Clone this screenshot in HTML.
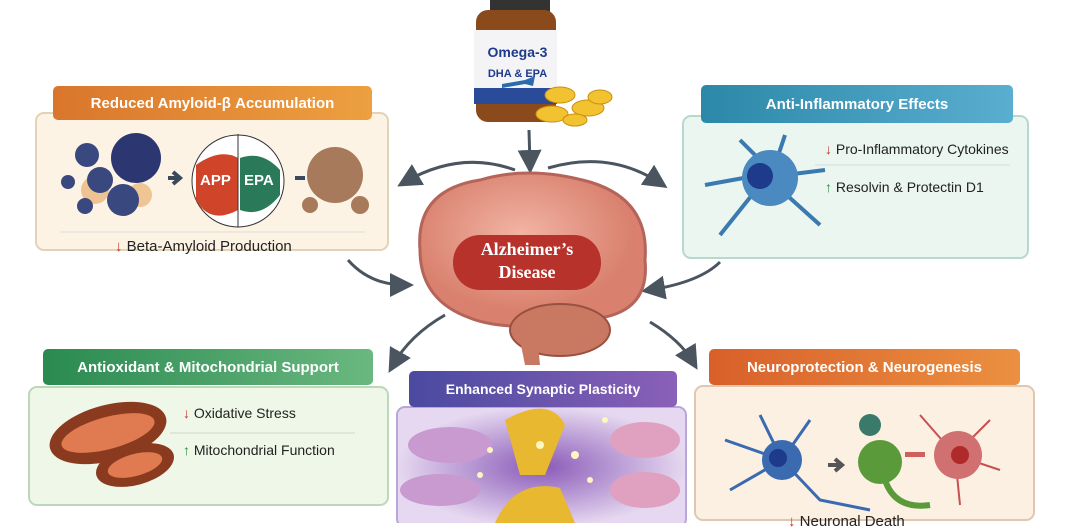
<!DOCTYPE html>
<html><head><meta charset="utf-8"><style>
body{margin:0;width:1075px;height:523px;overflow:hidden;background:#fff;font-family:"Liberation Sans",sans-serif;position:relative}
.a{position:absolute}
.hd{position:absolute;color:#fff;font-weight:bold;font-size:15px;text-align:center;border-radius:5px;display:flex;align-items:center;justify-content:center}
.t{position:absolute;font-size:14px;color:#222}
</style></head><body>
<svg class="a" width="1075" height="523" style="left:0;top:0">
<defs><marker id="m" markerWidth="8" markerHeight="8" refX="5" refY="4" orient="auto"><path d="M0,0L8,4L0,8z" fill="#4a5560"/></marker>
<radialGradient id="br" cx="0.45" cy="0.4"><stop offset="0" stop-color="#f2b4a4"/><stop offset="1" stop-color="#d9806e"/></radialGradient>
<radialGradient id="sy" cx="0.5" cy="0.5"><stop offset="0" stop-color="#8a5ab8"/><stop offset="1" stop-color="#e6d8f0"/></radialGradient></defs>
<rect x="36" y="113" width="352" height="137" rx="8" fill="#fcf3e4" stroke="#e2d3b8" stroke-width="2"/>
<rect x="683" y="116" width="345" height="142" rx="8" fill="#eaf6ef" stroke="#b8d8cc" stroke-width="2"/>
<rect x="29" y="387" width="359" height="118" rx="8" fill="#eef7e8" stroke="#bcd8b8" stroke-width="2"/>
<rect x="397" y="407" width="289" height="120" rx="8" fill="url(#sy)" stroke="#b8a6d8" stroke-width="2"/>
<rect x="695" y="386" width="339" height="134" rx="8" fill="#fcf0e2" stroke="#e0c8b0" stroke-width="2"/>
<g fill="none" stroke="#4a5560" stroke-width="3" marker-end="url(#m)">
<path d="M529 130 L530 165"/>
<path d="M515 170 Q460 150 405 182"/>
<path d="M548 168 Q610 150 660 183"/>
<path d="M348 260 Q370 285 405 285"/>
<path d="M720 262 Q700 282 650 290"/>
<path d="M445 315 Q410 335 393 365"/>
<path d="M650 322 Q680 340 693 362"/>
</g>
<!-- brain -->
<path d="M420 250 Q415 190 480 180 Q530 165 590 182 Q650 200 645 260 Q650 310 600 318 L560 325 Q500 330 470 318 Q420 300 420 250z" fill="url(#br)" stroke="#b5645a" stroke-width="3"/>
<ellipse cx="560" cy="330" rx="50" ry="26" fill="#c97862" stroke="#9a5040" stroke-width="2"/>
<path d="M520 340 L525 365 L540 365 L538 345z" fill="#c97862"/>
<rect x="453" y="235" width="148" height="55" rx="27" fill="#b8322c"/>
<!-- bottle -->
<rect x="490" y="0" width="60" height="12" fill="#333"/>
<rect x="476" y="10" width="80" height="112" rx="12" fill="#8a4a1c"/>
<rect x="474" y="30" width="83" height="65" fill="#f4f4f6"/>
<rect x="474" y="88" width="83" height="16" fill="#2a4a9a"/>
<path d="M502 84 L525 80 L535 76 L533 86 L525 84 L502 88z" fill="#2a6ab0"/>
<g fill="#f2c230" stroke="#c89010"><ellipse cx="560" cy="95" rx="15" ry="8"/><ellipse cx="588" cy="108" rx="16" ry="8"/><ellipse cx="552" cy="114" rx="16" ry="8"/><ellipse cx="600" cy="97" rx="12" ry="7"/><ellipse cx="575" cy="120" rx="12" ry="6"/></g>
<!-- amyloid -->
<g fill="#e9b070" opacity="0.7"><circle cx="95" cy="190" r="14"/><circle cx="140" cy="195" r="12"/></g>
<circle cx="87" cy="155" r="12" fill="#3a4880"/><circle cx="136" cy="158" r="25" fill="#2c3670"/><circle cx="100" cy="180" r="13" fill="#3a4880"/><circle cx="123" cy="200" r="16" fill="#3a4880"/><circle cx="68" cy="182" r="7" fill="#3a4880"/><circle cx="85" cy="206" r="8" fill="#3a4880"/>
<path d="M168 178 L178 178 M173 172 L180 178 L173 184" stroke="#3a4a5a" stroke-width="4" fill="none"/>
<circle cx="238" cy="181" r="46" fill="#fff" stroke="#333"/>
<path d="M196 165 Q220 148 238 158 L238 210 Q210 225 196 200z" fill="#d0442a"/>
<path d="M240 158 Q262 150 280 170 L280 195 Q262 218 240 210z" fill="#2a7a5a"/>
<line x1="238" y1="134" x2="238" y2="227" stroke="#333"/>
<path d="M295 178 L305 178" stroke="#3a4a5a" stroke-width="4"/>
<circle cx="335" cy="175" r="28" fill="#a67a5a"/><circle cx="310" cy="205" r="8" fill="#a67a5a"/><circle cx="360" cy="205" r="9" fill="#a67a5a"/>
<line x1="60" y1="232" x2="365" y2="232" stroke="#ddd"/>
<!-- mito -->
<ellipse cx="108" cy="433" rx="60" ry="28" fill="#8a3a1e" transform="rotate(-15 108 433)"/>
<ellipse cx="108" cy="433" rx="48" ry="16" fill="#e07a50" transform="rotate(-15 108 433)"/>
<ellipse cx="135" cy="465" rx="40" ry="20" fill="#8a3a1e" transform="rotate(-15 135 465)"/>
<ellipse cx="135" cy="465" rx="28" ry="11" fill="#e07a50" transform="rotate(-15 135 465)"/>
<line x1="170" y1="433" x2="355" y2="433" stroke="#ccd8c8"/>
<!-- cell -->
<g stroke="#3a7ab0" stroke-width="4" fill="none"><path d="M760 175 L705 185"/><path d="M770 180 L820 225"/><path d="M760 185 L720 235"/><path d="M775 165 L785 135"/><path d="M765 165 L740 140"/><path d="M785 175 L825 170"/></g>
<circle cx="770" cy="178" r="28" fill="#4a8ac0"/><circle cx="760" cy="176" r="13" fill="#1e3a8a"/>
<line x1="815" y1="165" x2="1010" y2="165" stroke="#d0e0d8"/>
<!-- synaptic -->
<path d="M505 420 Q550 395 565 425 L545 475 L520 475z" fill="#e8b830"/>
<path d="M495 523 Q515 478 560 488 L575 523z" fill="#e8b830"/>
<ellipse cx="450" cy="445" rx="42" ry="18" fill="#c89ad0"/><ellipse cx="440" cy="490" rx="40" ry="16" fill="#c89ad0"/>
<ellipse cx="645" cy="440" rx="35" ry="18" fill="#e0a0c0"/><ellipse cx="645" cy="490" rx="35" ry="18" fill="#e0a0c0"/>
<g fill="#fff6c0"><circle cx="490" cy="450" r="3"/><circle cx="575" cy="455" r="4"/><circle cx="590" cy="480" r="3"/><circle cx="480" cy="475" r="3"/><circle cx="540" cy="445" r="4"/><circle cx="605" cy="420" r="3"/></g>
<!-- neuro -->
<g stroke="#3a6ab0" stroke-width="3" fill="none"><path d="M782 460 L725 440"/><path d="M782 460 L760 415"/><path d="M782 460 L810 420"/><path d="M782 460 L820 500 L870 510"/><path d="M782 460 L730 490"/></g>
<circle cx="782" cy="460" r="20" fill="#3a6ab0"/><circle cx="778" cy="458" r="9" fill="#1e3a8a"/>
<path d="M828 465 L840 465 M835 459 L842 465 L835 471" stroke="#555" stroke-width="4" fill="none"/>
<circle cx="880" cy="462" r="22" fill="#5a9a3a"/><path d="M885 480 Q895 510 930 505" stroke="#5a9a3a" stroke-width="6" fill="none"/>
<g stroke="#c85050" stroke-width="2" fill="none"><path d="M955 455 L990 420"/><path d="M955 455 L920 415"/><path d="M955 455 L1000 470"/><path d="M955 455 L960 505"/></g>
<circle cx="958" cy="455" r="24" fill="#d07070"/><circle cx="960" cy="455" r="9" fill="#b02a2a"/>
<rect x="905" y="452" width="20" height="5" fill="#d06060"/>
<circle cx="870" cy="425" r="11" fill="#3a7a6a"/>
</svg>
<div class="hd" style="left:53px;top:86px;width:319px;height:34px;background:linear-gradient(90deg,#d9762c,#eda040)">Reduced Amyloid-β Accumulation</div>
<div class="hd" style="left:701px;top:85px;width:312px;height:38px;background:linear-gradient(90deg,#2c88a8,#5aaed0)">Anti-Inflammatory Effects</div>
<div class="hd" style="left:43px;top:349px;width:330px;height:36px;background:linear-gradient(90deg,#2a8a50,#6ab880)">Antioxidant &amp; Mitochondrial Support</div>
<div class="hd" style="left:409px;top:371px;width:268px;height:36px;background:linear-gradient(90deg,#4a4aa0,#8a60b8);font-size:14px">Enhanced Synaptic Plasticity</div>
<div class="hd" style="left:709px;top:349px;width:311px;height:36px;background:linear-gradient(90deg,#d8602a,#eb9040)">Neuroprotection &amp; Neurogenesis</div>
<div class="a" style="left:453px;top:238px;width:148px;text-align:center;color:#fff;font-weight:bold;font-size:18px;line-height:23px;font-family:'Liberation Serif',serif">Alzheimer’s<br>Disease</div>
<div class="a" style="left:476px;top:42px;width:83px;text-align:center;color:#1e3a8a;font-weight:bold;font-size:14px;line-height:20px">Omega-3<br><span style="font-size:11px">DHA &amp; EPA</span></div>
<div class="a" style="left:200px;top:172px;color:#fff;font-weight:bold;font-size:15px">APP</div>
<div class="a" style="left:244px;top:172px;color:#fff;font-weight:bold;font-size:15px">EPA</div>
<div class="t" style="left:115px;top:238px;font-size:15px"><span style="color:#c8302a;font-weight:bold">↓</span> Beta-Amyloid Production</div>
<div class="t" style="left:825px;top:141px;font-size:14px"><span style="color:#c8302a;font-weight:bold">↓</span> Pro-Inflammatory Cytokines</div>
<div class="t" style="left:825px;top:179px;font-size:14px"><span style="color:#2a8a3a;font-weight:bold">↑</span> Resolvin &amp; Protectin D1</div>
<div class="t" style="left:183px;top:405px;font-size:14px"><span style="color:#c8302a;font-weight:bold">↓</span> Oxidative Stress</div>
<div class="t" style="left:183px;top:442px;font-size:14px"><span style="color:#2a8a3a;font-weight:bold">↑</span> Mitochondrial Function</div>
<div class="t" style="left:788px;top:513px;font-size:15px"><span style="color:#c8302a;font-weight:bold">↓</span> Neuronal Death</div>
</body></html>
